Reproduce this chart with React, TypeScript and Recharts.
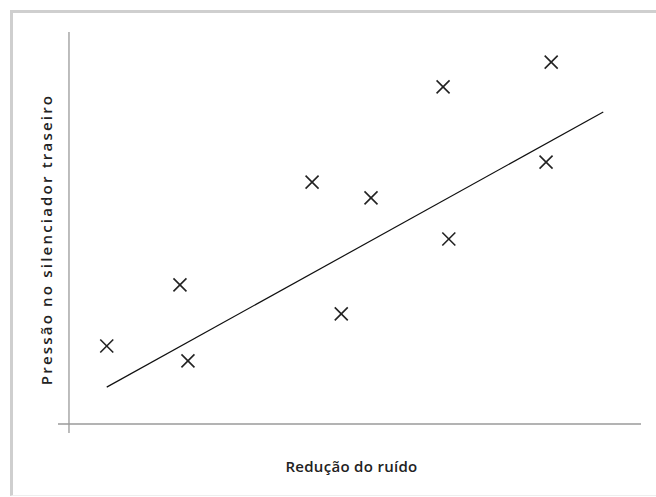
import { ComposedChart, Scatter, XAxis, YAxis, ReferenceLine } from 'recharts';

const noiseReduction = [0.66, 1.94, 2.08, 4.25, 4.76, 5.28, 6.54, 6.64, 8.34, 8.43];
const rearPressure = [1.99, 3.55, 1.61, 6.17, 2.81, 5.77, 8.6, 4.72, 6.68, 9.23];
const trendX = [0.66, 9.34];
const trendY = [0.94, 7.96];

const points = noiseReduction.map((x, i) => ({ x, y: rearPressure[i] }));
const trend = trendX.map((x, i) => ({ x, y: trendY[i] }));

const Cross = (props: any) => {
  const { cx, cy } = props;
  const s = 6.5;
  return (
    <g stroke="#222" strokeWidth={1.6}>
      <line x1={cx - s} y1={cy - s} x2={cx + s} y2={cy + s} />
      <line x1={cx - s} y1={cy + s} x2={cx + s} y2={cy - s} />
    </g>
  );
};

const font = '"Open Sans", sans-serif';

export default function App() {
  return (
    <div>
      <div
        style={{
          position: 'absolute',
          left: 10,
          top: 10,
          width: 646,
          height: 486,
          boxSizing: 'border-box',
          borderTop: '3px solid #cfcfcf',
          borderLeft: '3px solid #cfcfcf',
          borderBottom: '1px solid #eeeeee',
        }}
      />
      <div style={{ position: 'absolute', left: 0, top: 0 }}>
        <ComposedChart
          width={656}
          height={497}
          margin={{ top: 32, right: 15, left: 36, bottom: 14 }}
        >
          <XAxis
            type="number"
            dataKey="x"
            domain={[-0.192, 10]}
            axisLine={false}
            tickLine={false}
            tick={false}
            height={50}
            label={{
              value: 'Redução do ruído',
              position: 'insideBottom',
              offset: 11,
              dx: 2,
              style: { fontFamily: font, fontSize: 15, fontWeight: 600, fill: '#222', letterSpacing: 0.3 },
            }}
          />
          <YAxis
            type="number"
            dataKey="y"
            domain={[-0.23, 10]}
            axisLine={false}
            tickLine={false}
            tick={false}
            width={22}
            label={{
              value: 'Pressão no silenciador traseiro',
              angle: -90,
              position: 'center',
              dy: 7,
              style: {
                fontFamily: font,
                fontSize: 15,
                fontWeight: 600,
                fill: '#222',
                textAnchor: 'middle',
                letterSpacing: 2.2,
              },
            }}
          />
          <ReferenceLine x={0} stroke="#9a9a9a" strokeWidth={1.3} />
          <ReferenceLine y={0} stroke="#9a9a9a" strokeWidth={1.3} />
          <Scatter
            data={trend}
            line={{ stroke: '#111', strokeWidth: 1.2 }}
            shape={() => <g />}
            isAnimationActive={false}
          />
          <Scatter data={points} shape={<Cross />} isAnimationActive={false} />
        </ComposedChart>
      </div>
    </div>
  );
}
